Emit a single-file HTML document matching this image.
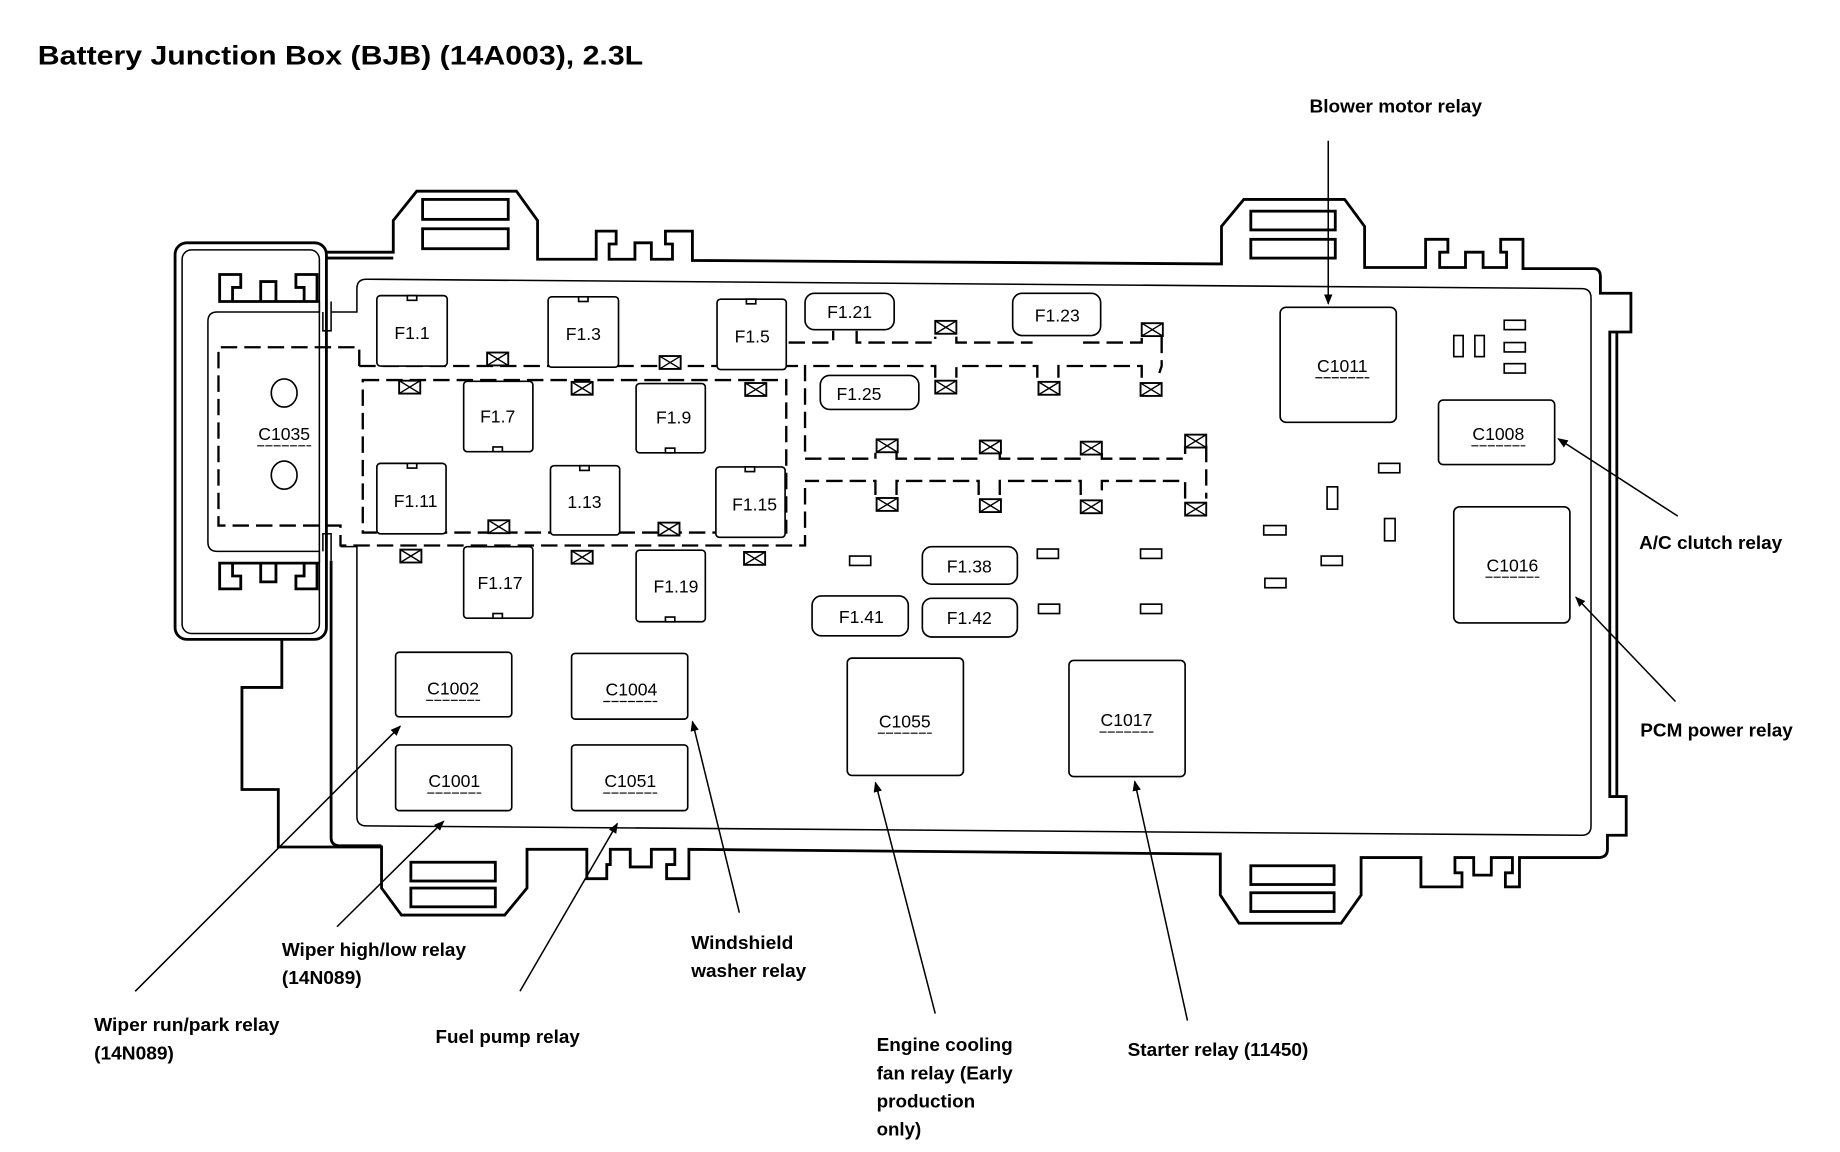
<!DOCTYPE html>
<html><head><meta charset="utf-8"><style>
html,body{margin:0;padding:0;background:#fff;}
svg{display:block;}
text{font-family:"Liberation Sans",sans-serif;fill:#000;}
.b{font-weight:bold;font-size:15.5px;}
.l{font-size:15px;}
</style></head><body>
<svg width="1840" height="1152" viewBox="0 0 1568 982" xmlns="http://www.w3.org/2000/svg">
<defs>
<marker id="ar" viewBox="0 0 10 10" refX="9" refY="5" markerWidth="9" markerHeight="9" orient="auto" markerUnits="userSpaceOnUse"><path d="M0,1 L10,5 L0,9 z" fill="#000"/></marker>
<g id="xb"><rect x="-9" y="-5.5" width="18" height="11" fill="#fff" stroke="#000" stroke-width="1.6"/><path d="M-9,-5.5 L9,5.5 M9,-5.5 L-9,5.5" stroke="#000" stroke-width="1.2"/></g>
</defs>
<text x="32" y="55" font-weight="bold" font-size="23" textLength="516" lengthAdjust="spacingAndGlyphs">Battery Junction Box (BJB) (14A003), 2.3L</text>

<g fill="none" stroke="#000" stroke-width="2.4" stroke-linejoin="miter">
<path d="M277,215 L335,215 L335,188 L355,163 L440,163 L458,188 L458,221 L508,221 L508,197 L525,197 L525,208 L519,208 L519,221 L541,221 L541,207 L555,207 L555,221 L573,221 L573,208 L567,208 L567,197 L590,197 L590,222 L1041,225 L1041,193 L1060,170 L1146,170 L1163,193 L1163,228 L1215,228 L1215,204 L1234,204 L1234,215 L1227,215 L1227,228 L1249,228 L1249,215 L1264,215 L1264,228 L1284,228 L1284,215 L1279,215 L1279,204 L1298,204 L1298,229 L1358,229 Q1364,229 1364,236 L1364,250 L1390,250 L1390,283 L1372,283 L1372,679 L1386,679 L1386,712 L1370,712 L1370,724 Q1370,731 1362,731 L1295,731 L1295,756 L1283,756 L1283,744 L1289,744 L1289,731 L1271,731 L1271,746 L1256,746 L1256,731 L1240,731 L1240,744 L1246,744 L1246,756 L1211,756 L1211,731 L1160,731 L1160,763 L1143,787 L1056,787 L1040,763 L1040,728 L587,724 L587,749 L568,749 L568,737 L575,737 L575,724 L555,724 L555,739 L537,739 L537,724 L520,724 L520,737 L517,737 L517,749 L500,749 L500,724 L449,724 L449,757 L430,780 L342,780 L325,757 L325,722 L237,722 L237,673 L206,673 L206,586 L240,586 L240,545"/>
<path d="M1378,283 L1378,679"/>
<path d="M282,478 L282,714 Q282,721 290,721 L325,721"/>
<rect x="149" y="207" width="129" height="338" rx="10"/>
<rect x="360" y="170" width="73" height="17"/><rect x="360" y="195" width="73" height="17"/>
<rect x="1066" y="180" width="72" height="16"/><rect x="1066" y="204" width="72" height="16"/>
<rect x="350" y="735" width="72" height="16"/><rect x="350" y="757" width="72" height="16"/>
<rect x="1066" y="738" width="71" height="16"/><rect x="1066" y="761" width="71" height="16"/>
<path d="M272,257 L187,257 L187,234 L205,234 L205,245 L198,245 L198,257 M222,257 L222,240 L235,240 L235,257 M259,257 L259,245 L252,245 L252,234 L270,234 L270,257"/>
<path d="M272,480 L187,480 L187,502 L205,502 L205,491 L198,491 L198,480 M222,480 L222,496 L235,496 L235,480 M259,480 L259,491 L252,491 L252,502 L270,502 L270,480"/>
<path d="M277,220 L335,220"/>
</g>
<g fill="none" stroke="#000" stroke-width="1.3">
<rect x="155" y="213" width="117" height="327" rx="8"/>
<path d="M272,257 L272,266 L185,266 Q177,266 177,274 L177,462 Q177,470 185,470 L272,470 L272,480"/>
<path d="M275,266 L275,282 L282,282 L282,257 M275,470 L275,455 L282,455 L282,478"/>
<path d="M282,266 L304,266 L304,246 Q304,238 312,238 L1348,246 Q1356,246 1356,254 L1356,704 Q1356,712 1348,712 L312,704 Q304,704 304,696 L304,466 L290,466"/>
</g>

<!-- dashed regions -->
<g fill="none" stroke="#000" stroke-width="2" stroke-dasharray="14,6">
<path d="M306,312 L306,296 L186,296 L186,448 L290,448 L290,465 L686,465 L686,410"/>
<path d="M306,312 L686,312"/>
<rect x="309" y="324" width="361" height="130"/>
<path d="M672,292 L710,292 L710,282 M730,282 L730,292 L797,292 L797,287 M815,287 L815,292 L880,292 M923,292 L973,292 L973,287 M990,287 L990,312 L988,318 M973,322 L973,312 L902,312 L902,322 M884,322 L884,312 L815,312 L815,322 M797,322 L797,312 L686,312 L686,391 L746,391 L746,386 M764,386 L764,391 L834,391 L834,386 M852,386 L852,391 L921,391 L921,386 M939,386 L939,391 L1010,391 L1010,380 M1028,380 L1028,425 M1010,425 L1010,410 L939,410 L939,422 M921,422 L921,410 L852,410 L852,422 M834,422 L834,410 L764,410 L764,422 M746,422 L746,410 L686,410"/>
</g>
<g>
<use href="#xb" x="424" y="306"/><use href="#xb" x="571" y="309"/>
<use href="#xb" x="349" y="330"/><use href="#xb" x="496" y="331"/><use href="#xb" x="644" y="332"/>
<use href="#xb" x="425" y="449"/><use href="#xb" x="570" y="451"/>
<use href="#xb" x="350" y="474"/><use href="#xb" x="496" y="475"/><use href="#xb" x="643" y="476"/>
<use href="#xb" x="806" y="279"/><use href="#xb" x="982" y="281"/>
<use href="#xb" x="806" y="330"/><use href="#xb" x="894" y="331"/><use href="#xb" x="981" y="332"/>
<use href="#xb" x="756" y="380"/><use href="#xb" x="844" y="381"/><use href="#xb" x="930" y="382"/><use href="#xb" x="1019" y="376"/>
<use href="#xb" x="756" y="430"/><use href="#xb" x="844" y="431"/><use href="#xb" x="930" y="432"/><use href="#xb" x="1019" y="434"/>
</g>

<!-- fuses -->
<g fill="#fff" stroke="#000" stroke-width="1.4">
<rect x="321" y="252" width="60" height="60" rx="3"/><rect x="347" y="252" width="8" height="4"/>
<rect x="467" y="253" width="60" height="60" rx="3"/><rect x="493" y="253" width="8" height="4"/>
<rect x="611" y="255" width="59" height="60" rx="3"/><rect x="636" y="255" width="8" height="4"/>
<rect x="395" y="325" width="59" height="60" rx="3"/><rect x="420" y="381" width="8" height="4"/>
<rect x="542" y="327" width="59" height="59" rx="3"/><rect x="567" y="382" width="8" height="4"/>
<rect x="321" y="395" width="59" height="60" rx="3"/><rect x="347" y="395" width="8" height="4"/>
<rect x="469" y="397" width="59" height="59" rx="3"/><rect x="494" y="397" width="8" height="4"/>
<rect x="610" y="398" width="59" height="60" rx="3"/><rect x="635" y="398" width="8" height="4"/>
<rect x="395" y="466" width="59" height="61" rx="3"/><rect x="420" y="523" width="8" height="4"/>
<rect x="542" y="469" width="59" height="61" rx="3"/><rect x="567" y="526" width="8" height="4"/>
<rect x="686" y="250" width="76" height="31" rx="8"/>
<rect x="863" y="250" width="75" height="36" rx="8"/>
<rect x="699" y="320" width="84" height="29" rx="8"/>
<rect x="786" y="466" width="81" height="32" rx="8"/>
<rect x="692" y="508" width="82" height="34" rx="8"/>
<rect x="786" y="510" width="81" height="33" rx="8"/>
<rect x="1091" y="262" width="99" height="98" rx="5"/>
<rect x="1226" y="341" width="99" height="55" rx="4"/>
<rect x="1239" y="432" width="99" height="99" rx="5"/>
<rect x="337" y="556" width="99" height="55" rx="3"/>
<rect x="487" y="557" width="99" height="56" rx="3"/>
<rect x="337" y="635" width="99" height="56" rx="3"/>
<rect x="487" y="635" width="99" height="56" rx="3"/>
<rect x="722" y="561" width="99" height="100" rx="4"/>
<rect x="911" y="563" width="99" height="99" rx="4"/>
<ellipse cx="242" cy="335" rx="11" ry="12"/><ellipse cx="242" cy="405" rx="11" ry="12"/>
<rect x="1282" y="273" width="18" height="8"/><rect x="1282" y="292" width="18" height="8"/><rect x="1282" y="310" width="18" height="8"/>
<rect x="1239" y="286" width="8" height="18"/><rect x="1257" y="286" width="8" height="18"/>
<rect x="1175" y="395" width="18" height="8"/><rect x="1131" y="415" width="9" height="19"/><rect x="1180" y="442" width="9" height="19"/>
<rect x="1077" y="448" width="19" height="8"/><rect x="1126" y="474" width="18" height="8"/><rect x="1078" y="493" width="18" height="8"/>
<rect x="724" y="474" width="18" height="8"/><rect x="884" y="468" width="18" height="8"/><rect x="972" y="468" width="18" height="8"/>
<rect x="885" y="515" width="18" height="8"/><rect x="972" y="515" width="18" height="8"/>
</g>

<g class="l" text-anchor="middle">
<text x="351" y="289">F1.1</text><text x="497" y="290">F1.3</text><text x="641" y="292">F1.5</text>
<text x="424" y="360">F1.7</text><text x="574" y="361">F1.9</text>
<text x="354" y="432">F1.11</text><text x="498" y="433">1.13</text><text x="643" y="435">F1.15</text>
<text x="426" y="502">F1.17</text><text x="576" y="505">F1.19</text>
<text x="724" y="271">F1.21</text><text x="901" y="274">F1.23</text><text x="732" y="341">F1.25</text>
<text x="826" y="488">F1.38</text><text x="734" y="531">F1.41</text><text x="826" y="532">F1.42</text>
<text x="242" y="375">C1035</text><text x="1144" y="317">C1011</text><text x="1277" y="375">C1008</text>
<text x="1289" y="487">C1016</text><text x="386" y="592">C1002</text><text x="538" y="593">C1004</text>
<text x="387" y="671">C1001</text><text x="537" y="671">C1051</text><text x="771" y="620">C1055</text><text x="960" y="619">C1017</text>
</g>
<g stroke="#000" stroke-width="1" stroke-dasharray="6,1">
<path d="M219,380 L265,380 M1121,322 L1167,322 M1254,380 L1300,380 M1266,492 L1312,492 M363,597 L409,597 M514,598 L560,598 M364,676 L410,676 M514,676 L560,676 M748,625 L794,625 M937,624 L983,624"/>
</g>

<!-- leaders -->
<g stroke="#000" stroke-width="1.3" fill="none" marker-end="url(#ar)">
<path d="M1132,120 L1132,259"/>
<path d="M1430,440 L1328,374"/>
<path d="M1428,598 L1343,509"/>
<path d="M115,845 L341,619"/>
<path d="M287,790 L378,700"/>
<path d="M443,845 L526,702"/>
<path d="M630,778 L590,615"/>
<path d="M797,864 L746,667"/>
<path d="M1012,870 L967,666"/>
</g>

<g class="b">
<text x="1116" y="96" textLength="147" lengthAdjust="spacingAndGlyphs">Blower motor relay</text>
<text x="1397" y="468" textLength="122" lengthAdjust="spacingAndGlyphs">A/C clutch relay</text>
<text x="1398" y="628" textLength="130" lengthAdjust="spacingAndGlyphs">PCM power relay</text>
<text x="240" y="815" textLength="157" lengthAdjust="spacingAndGlyphs">Wiper high/low relay</text>
<text x="240" y="839" textLength="68" lengthAdjust="spacingAndGlyphs">(14N089)</text>
<text x="80" y="879" textLength="158" lengthAdjust="spacingAndGlyphs">Wiper run/park relay</text>
<text x="80" y="903" textLength="68" lengthAdjust="spacingAndGlyphs">(14N089)</text>
<text x="371" y="889" textLength="123" lengthAdjust="spacingAndGlyphs">Fuel pump relay</text>
<text x="589" y="809" textLength="87" lengthAdjust="spacingAndGlyphs">Windshield</text>
<text x="589" y="833" textLength="98" lengthAdjust="spacingAndGlyphs">washer relay</text>
<text x="747" y="896" textLength="116" lengthAdjust="spacingAndGlyphs">Engine cooling</text>
<text x="747" y="920" textLength="116" lengthAdjust="spacingAndGlyphs">fan relay (Early</text>
<text x="747" y="944" textLength="84" lengthAdjust="spacingAndGlyphs">production</text>
<text x="747" y="968" textLength="38" lengthAdjust="spacingAndGlyphs">only)</text>
<text x="961" y="900" textLength="154" lengthAdjust="spacingAndGlyphs">Starter relay (11450)</text>
</g>
</svg>
</body></html>
